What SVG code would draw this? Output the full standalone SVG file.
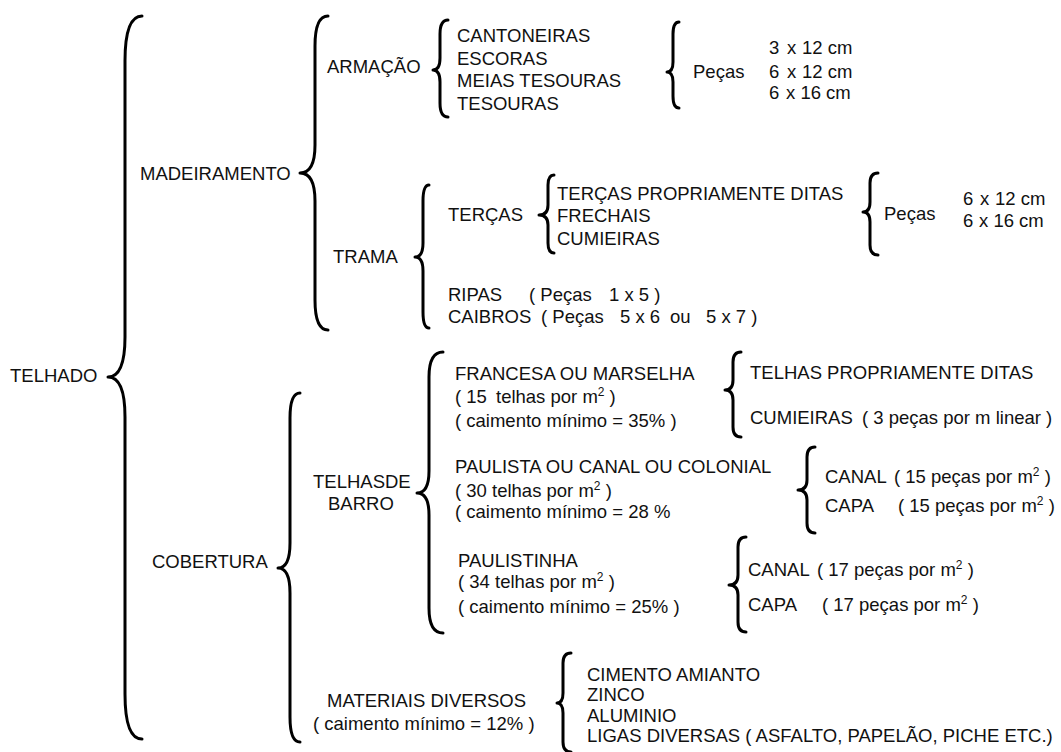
<svg xmlns="http://www.w3.org/2000/svg" width="1061" height="752" viewBox="0 0 1061 752">
<style>
text{font-family:"Liberation Sans",Arial,sans-serif;font-size:18.5px;fill:#111}
.b{fill:none;stroke:#000;stroke-width:3;stroke-linecap:round;stroke-linejoin:round}
.s{font-size:12px}
</style>
<rect width="1061" height="752" fill="#fff"/>
<g id="connectors">
<path class="b" d="M142 16 Q125 16 125 61 L125 337 Q125 377 108 377 Q125 377 125 417 L125 694 Q125 739 142 739"/>
<path class="b" d="M328 16 Q315 16 315 46 L315 145 Q315 173 300 173 Q315 173 315 201 L315 300 Q315 330 328 330"/>
<path class="b" d="M448 20 Q440 20 440 34 L440 58 Q440 70 433 70 Q440 70 440 82 L440 103 Q440 117 448 117"/>
<path class="b" d="M679 22 Q673 22 673 34 L673 62 Q673 72 667 72 Q673 72 673 82 L673 96 Q673 108 679 108"/>
<path class="b" d="M429 185 Q423 185 423 201 L423 243 Q423 257 415 257 Q423 257 423 271 L423 312 Q423 328 429 328"/>
<path class="b" d="M554 175 Q548 175 548 185 L548 205 Q548 215 539 215 Q548 215 548 225 L548 243 Q548 253 554 253"/>
<path class="b" d="M878 173 Q870 173 870 183 L870 202 Q870 212 863 212 Q870 212 870 222 L870 245 Q870 255 878 255"/>
<path class="b" d="M300 393 Q290 393 290 418 L290 543 Q290 568 278 568 Q290 568 290 593 L290 717 Q290 742 300 742"/>
<path class="b" d="M443 352 Q429 352 429 377 L429 471 Q429 493 417 493 Q429 493 429 515 L429 608 Q429 633 443 633"/>
<path class="b" d="M741 352 Q733 352 733 362 L733 380 Q733 390 725 390 Q733 390 733 400 L733 427 Q733 437 741 437"/>
<path class="b" d="M815 447 Q807 447 807 457 L807 480 Q807 490 798 490 Q807 490 807 500 L807 523 Q807 533 815 533"/>
<path class="b" d="M746 537 Q738 537 738 547 L738 575 Q738 585 729 585 Q738 585 738 595 L738 622 Q738 632 746 632"/>
<path class="b" d="M571 653 Q563 653 563 663 L563 693 Q563 703 557 703 Q563 703 563 713 L563 742 Q563 752 571 752"/>
</g>
<g id="telhado"><text x="10" y="382">TELHADO</text></g>
<g id="madeiramento"><text x="140" y="180">MADEIRAMENTO</text></g>
<g id="armacao"><text x="327" y="73">ARMAÇÃO</text></g>
<g id="armacao-itens">
<text x="457" y="42">CANTONEIRAS</text>
<text x="457" y="65">ESCORAS</text>
<text x="457" y="87">MEIAS TESOURAS</text>
<text x="457" y="110">TESOURAS</text>
</g>
<g id="pecas1">
<text x="693" y="78">Peças</text>
<text y="54"><tspan x="769">3</tspan><tspan x="787">x</tspan><tspan x="802">12 cm</tspan></text>
<text y="78"><tspan x="769">6</tspan><tspan x="787">x</tspan><tspan x="802">12 cm</tspan></text>
<text y="99"><tspan x="769">6</tspan><tspan x="786">x 16 cm</tspan></text>
</g>
<g id="trama"><text x="333" y="263">TRAMA</text></g>
<g id="tercas"><text x="448" y="221">TERÇAS</text></g>
<g id="tercas-itens">
<text x="557" y="200">TERÇAS PROPRIAMENTE DITAS</text>
<text x="557" y="222">FRECHAIS</text>
<text x="557" y="245">CUMIEIRAS</text>
</g>
<g id="pecas2">
<text x="884" y="220">Peças</text>
<text y="205"><tspan x="963">6</tspan><tspan x="980">x</tspan><tspan x="995">12 cm</tspan></text>
<text y="227"><tspan x="963">6</tspan><tspan x="979">x 16 cm</tspan></text>
</g>
<g id="ripas"><text y="301"><tspan x="448">RIPAS</tspan><tspan x="529">( Peças</tspan><tspan x="609">1 x 5 )</tspan></text></g>
<g id="caibros"><text y="323"><tspan x="448">CAIBROS</tspan><tspan x="541">( Peças</tspan><tspan x="620">5 x 6</tspan><tspan x="670">ou</tspan><tspan x="706">5 x 7 )</tspan></text></g>
<g id="cobertura"><text x="152" y="568">COBERTURA</text></g>
<g id="telhas-de-barro"><text x="313" y="488">TELHASDE</text><text x="328" y="510">BARRO</text></g>
<g id="francesa">
<text x="455" y="380">FRANCESA OU MARSELHA</text>
<text y="403"><tspan x="455">( 15</tspan><tspan x="496">telhas por m</tspan><tspan class="s" dy="-7">2</tspan><tspan dy="7"> )</tspan></text>
<text x="455" y="427">( caimento mínimo = 35% )</text>
</g>
<g id="francesa-itens">
<text x="750" y="379">TELHAS PROPRIAMENTE DITAS</text>
<text y="424"><tspan x="750">CUMIEIRAS</tspan><tspan x="862">( 3 peças por m linear )</tspan></text>
</g>
<g id="paulista">
<text x="455" y="473">PAULISTA OU CANAL OU COLONIAL</text>
<text x="455" y="497">( 30 telhas por m<tspan class="s" dy="-7">2</tspan><tspan dy="7"> )</tspan></text>
<text x="455" y="518">( caimento mínimo = 28 %</text>
</g>
<g id="paulista-itens">
<text y="483"><tspan x="825">CANAL</tspan><tspan x="894">( 15 peças por m</tspan><tspan class="s" dy="-7">2</tspan><tspan dy="7"> )</tspan></text>
<text y="512"><tspan x="825">CAPA</tspan><tspan x="898">( 15 peças por m</tspan><tspan class="s" dy="-7">2</tspan><tspan dy="7"> )</tspan></text>
</g>
<g id="paulistinha">
<text x="458" y="567">PAULISTINHA</text>
<text x="458" y="588">( 34 telhas por m<tspan class="s" dy="-7">2</tspan><tspan dy="7"> )</tspan></text>
<text x="458" y="613">( caimento mínimo = 25% )</text>
</g>
<g id="paulistinha-itens">
<text y="576"><tspan x="748">CANAL</tspan><tspan x="817">( 17 peças por m</tspan><tspan class="s" dy="-7">2</tspan><tspan dy="7"> )</tspan></text>
<text y="611"><tspan x="748">CAPA</tspan><tspan x="822">( 17 peças por m</tspan><tspan class="s" dy="-7">2</tspan><tspan dy="7"> )</tspan></text>
</g>
<g id="materiais">
<text x="327" y="707">MATERIAIS DIVERSOS</text>
<text x="313" y="730">( caimento mínimo = 12% )</text>
</g>
<g id="materiais-itens">
<text x="587" y="681">CIMENTO AMIANTO</text>
<text x="587" y="701">ZINCO</text>
<text x="587" y="722">ALUMINIO</text>
<text x="587" y="742">LIGAS DIVERSAS ( ASFALTO, PAPELÃO, PICHE ETC.)</text>
</g>
</svg>
